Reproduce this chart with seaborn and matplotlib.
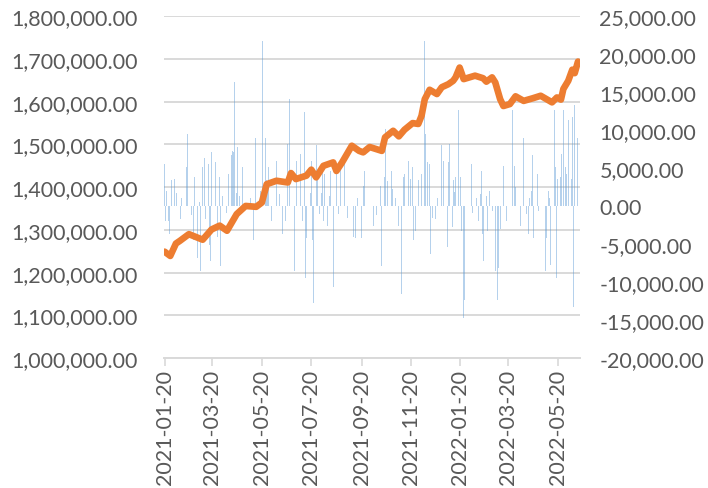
import matplotlib
matplotlib.use("Agg")
import matplotlib.pyplot as plt
import matplotlib.ticker as mticker
import pandas as pd
import seaborn as sns

# Portfolio value (left axis)
line_dates = [
    "2021-01-20", "2021-01-27", "2021-02-03", "2021-02-08", "2021-02-19", "2021-03-08",
    "2021-03-19", "2021-03-29", "2021-04-07", "2021-04-19", "2021-04-30", "2021-05-13",
    "2021-05-20", "2021-05-26", "2021-06-07", "2021-06-21", "2021-06-25", "2021-07-01",
    "2021-07-14", "2021-07-20", "2021-07-26", "2021-08-04", "2021-08-16", "2021-08-20",
    "2021-08-27", "2021-09-08", "2021-09-17", "2021-09-22", "2021-09-30", "2021-10-15",
    "2021-10-19", "2021-10-29", "2021-11-05", "2021-11-12", "2021-11-22", "2021-11-29",
    "2021-12-03", "2021-12-07", "2021-12-13", "2021-12-22", "2021-12-28", "2022-01-05",
    "2022-01-11", "2022-01-14", "2022-01-19", "2022-01-24", "2022-02-07", "2022-02-17",
    "2022-02-21", "2022-02-28", "2022-03-04", "2022-03-10", "2022-03-14", "2022-03-22",
    "2022-03-29", "2022-04-08", "2022-04-19", "2022-04-29", "2022-05-13", "2022-05-19",
    "2022-05-24", "2022-05-27", "2022-06-02", "2022-06-07", "2022-06-10", "2022-06-14",
]
line_values = [
    1249000, 1239000, 1268000, 1274500, 1290000, 1277000,
    1301000, 1310000, 1298000, 1337000, 1356000, 1354000,
    1364000, 1407000, 1415000, 1411000, 1433000, 1419000,
    1427000, 1441000, 1423000, 1450000, 1458000, 1438000,
    1458000, 1497000, 1485000, 1481500, 1494000, 1485000,
    1516600, 1532000, 1519000, 1534500, 1550000, 1548000,
    1567000, 1606000, 1628000, 1618000, 1634000, 1641000,
    1649000, 1657000, 1680000, 1653000, 1661000, 1655000,
    1647000, 1657000, 1645000, 1606000, 1590000, 1594600,
    1612700, 1602000, 1608000, 1614000, 1598600, 1610000,
    1605000, 1630000, 1649000, 1675000, 1667000, 1694000,
]

# Daily profit / loss (right axis)
bar_dates = [
    "2021-01-20", "2021-01-21", "2021-01-22", "2021-01-25", "2021-01-26", "2021-01-29",
    "2021-02-01", "2021-02-03", "2021-02-04", "2021-02-08", "2021-02-09", "2021-02-10",
    "2021-02-16", "2021-02-17", "2021-02-22", "2021-02-24", "2021-02-25", "2021-02-26",
    "2021-03-01", "2021-03-02", "2021-03-04", "2021-03-05", "2021-03-08", "2021-03-10",
    "2021-03-11", "2021-03-15", "2021-03-16", "2021-03-17", "2021-03-18", "2021-03-19",
    "2021-03-22", "2021-03-24", "2021-03-26", "2021-03-29", "2021-03-30",
    "2021-04-01", "2021-04-06", "2021-04-09", "2021-04-12", "2021-04-13", "2021-04-14",
    "2021-04-15", "2021-04-16", "2021-04-19", "2021-04-20", "2021-04-22", "2021-04-23",
    "2021-04-26", "2021-04-28",
    "2021-05-06", "2021-05-10", "2021-05-12", "2021-05-14", "2021-05-18", "2021-05-21",
    "2021-05-24", "2021-05-25", "2021-05-26", "2021-05-27", "2021-05-28",
    "2021-06-01", "2021-06-04", "2021-06-07", "2021-06-09", "2021-06-11", "2021-06-14",
    "2021-06-15", "2021-06-18", "2021-06-21", "2021-06-23", "2021-06-25", "2021-06-29",
    "2021-07-02", "2021-07-07", "2021-07-09", "2021-07-12", "2021-07-13", "2021-07-14",
    "2021-07-16", "2021-07-19", "2021-07-20", "2021-07-21", "2021-07-23", "2021-07-26",
    "2021-07-28", "2021-07-30",
    "2021-08-02", "2021-08-03", "2021-08-04", "2021-08-05", "2021-08-06", "2021-08-09",
    "2021-08-11", "2021-08-13", "2021-08-16", "2021-08-17", "2021-08-20", "2021-08-23",
    "2021-08-25", "2021-08-27", "2021-08-30",
    "2021-09-02", "2021-09-03", "2021-09-07", "2021-09-10", "2021-09-13", "2021-09-15",
    "2021-09-20", "2021-09-22", "2021-09-24", "2021-09-28",
    "2021-10-05", "2021-10-08", "2021-10-13", "2021-10-15", "2021-10-18", "2021-10-19",
    "2021-10-20", "2021-10-22", "2021-10-25", "2021-10-27", "2021-10-28",
    "2021-11-01", "2021-11-04", "2021-11-05", "2021-11-08", "2021-11-09", "2021-11-11",
    "2021-11-12", "2021-11-15", "2021-11-17", "2021-11-19", "2021-11-22", "2021-11-23",
    "2021-11-26", "2021-11-29",
    "2021-12-01", "2021-12-03", "2021-12-06", "2021-12-07", "2021-12-08", "2021-12-10",
    "2021-12-13", "2021-12-14", "2021-12-17", "2021-12-20", "2021-12-23", "2021-12-27",
    "2021-12-28", "2021-12-30",
    "2022-01-04", "2022-01-05", "2022-01-07", "2022-01-10", "2022-01-11", "2022-01-13",
    "2022-01-14", "2022-01-18", "2022-01-20", "2022-01-21", "2022-01-24", "2022-01-25",
    "2022-02-03", "2022-02-04", "2022-02-07", "2022-02-09", "2022-02-11", "2022-02-14",
    "2022-02-15", "2022-02-16", "2022-02-17", "2022-02-21", "2022-02-22", "2022-02-23",
    "2022-02-25",
    "2022-03-01", "2022-03-04", "2022-03-07", "2022-03-08", "2022-03-10", "2022-03-11",
    "2022-03-14", "2022-03-16", "2022-03-18", "2022-03-25", "2022-03-28", "2022-03-29",
    "2022-04-01", "2022-04-04", "2022-04-08", "2022-04-11", "2022-04-12", "2022-04-14",
    "2022-04-15", "2022-04-18", "2022-04-19", "2022-04-20", "2022-04-22", "2022-04-25",
    "2022-04-26",
    "2022-05-05", "2022-05-06", "2022-05-09", "2022-05-10", "2022-05-11", "2022-05-13",
    "2022-05-16", "2022-05-17", "2022-05-19", "2022-05-20", "2022-05-23", "2022-05-25",
    "2022-05-27", "2022-05-30", "2022-05-31",
    "2022-06-02", "2022-06-06", "2022-06-07", "2022-06-08", "2022-06-09", "2022-06-10",
    "2022-06-13",
]
bar_values = [
    5500, -1900, 2000, -1900, -3700, 3400,
    3600, 8200, 1700, 8000, -1700, 1100,
    5100, 9500, -1100, -900, -4500, 3800,
    9000, -6800, 600, -8600, 5100, 6400,
    -1700, 5500, -5100, 3400, -7200, 7100,
    6400, 5800, -4100, 3800, -7900,
    1400, -900, 4200, 8500, 6800, 7300,
    7100, 16400, 1700, 7800, 1400, 3400,
    5100, -700,
    1100, -4400, 9000, 1100, 2000, 21800,
    14800, 9000, 3400, 2000, 5100,
    -1900, -2600, 6000, 6900, 1600, -3700,
    1600, -1900, 8200, 14100, -3700, -8600,
    6000, 6900, -1900, 12400, -9500, -4200,
    3400, 1700, 6000, -4500, -12800, 8000,
    4200, -1000,
    1700, 4600, -1900, 4200, -1500, -2600,
    1400, 4600, -10700, 3800, 4200, -1000,
    5100, 3800, 6000,
    6000, -1500, 3600, -4000, -4200, 1100,
    -4200, 2700, 4600, 1100,
    -2600, -1200, 2700, -7900, 3800, 13300,
    10200, 3300, 7100, 4600, 2300,
    1100, -1000, -2600, -11600, 8900, 3800,
    4200, -4200, 6000, 3600, 5100, -4400,
    -3300, 3400,
    9000, 4200, 9500, 21700, 9500, 5800,
    5500, -6300, -1500, -1700, 1100, 4600,
    8000, 6000,
    -5400, 5800, 8200, -2800, 3400, 1800,
    3800, 12700, 3800, -3300, -14700, -12400,
    5500, -900, 4600, 1100, -1900, 1600,
    4600, -3700, -7200, 1400, -3300, 6400,
    2000,
    -700, -8600, -12400, -8100, -3000, -16000,
    5300, 8500, -1900, 12700, 5300, 2500,
    -5400, -2600, 9000, -5700, -1000, -3700,
    1100, 2000, 6700, -4200, -1000, 4200,
    -700,
    -8600, -4200, 2000, 1100, -7700, 6000,
    12700, 5100, -9500, 3600, 3800, 6900,
    12700, 5100, 4200,
    11300, 3600, 11800, -13300, 4600, 13300,
    9000,
]

x_tick_labels = [
    "2021-01-20", "2021-03-20", "2021-05-20", "2021-07-20", "2021-09-20",
    "2021-11-20", "2022-01-20", "2022-03-20", "2022-05-20",
]
left_ticks = [1000000, 1100000, 1200000, 1300000, 1400000,
              1500000, 1600000, 1700000, 1800000]
right_ticks = [-20000, -15000, -10000, -5000, 0, 5000, 10000, 15000, 20000, 25000]

line_df = pd.DataFrame({"date": pd.to_datetime(line_dates), "value": line_values})
bar_df = pd.DataFrame({"date": pd.to_datetime(bar_dates), "pnl": bar_values})

sns.set_theme(style="white")
plt.rcParams["font.family"] = ["Lato", "DejaVu Sans"]

TEXT = "#595959"
GRID = "#D9D9D9"
FS = 15.5

fig = plt.figure(figsize=(7.08, 4.89), dpi=100)
ax_left = fig.add_axes([0.2316, 0.2658, 0.5876, 0.6988])
ax_bar = ax_left.twinx()
ax_line = ax_left.twinx()

# daily bars on the secondary scale
ax_bar.bar(bar_df["date"], bar_df["pnl"], width=1.0, color="#5B9BD5",
           alpha=0.45, linewidth=0)
ax_bar.set_ylim(right_ticks[0], right_ticks[-1])
ax_bar.set_yticks(right_ticks)
ax_bar.yaxis.set_major_formatter(mticker.FuncFormatter(lambda v, p: f"{v:,.2f}"))
ax_bar.tick_params(axis="y", length=0, pad=14, labelsize=FS, labelcolor=TEXT,
                   right=False)
ax_bar.set_ylabel("")

# value line on the primary scale
sns.lineplot(data=line_df, x="date", y="value", ax=ax_line, color="#ED7D31",
             linewidth=4.8, estimator=None, sort=False,
             solid_joinstyle="round", solid_capstyle="round")
ax_line.set_ylim(left_ticks[0], left_ticks[-1])
ax_line.set_yticks([])
ax_line.set_ylabel("")

ax_left.set_ylim(left_ticks[0], left_ticks[-1])
ax_left.set_yticks(left_ticks)
ax_left.yaxis.set_major_formatter(mticker.FuncFormatter(lambda v, p: f"{v:,.2f}"))
ax_left.tick_params(axis="y", length=0, pad=19, labelsize=FS, labelcolor=TEXT,
                    left=False)
ax_left.yaxis.grid(True, color=GRID, linewidth=1.4)
ax_left.xaxis.grid(False)

tick_pos = pd.to_datetime(x_tick_labels)
ax_left.set_xlim(pd.Timestamp("2021-01-19 06:00"), pd.Timestamp("2022-06-16 12:00"))
ax_left.set_xticks(tick_pos)
ax_left.set_xticklabels(x_tick_labels, rotation=90)
ax_left.tick_params(axis="x", bottom=True, length=6, width=1.2, color=GRID,
                    pad=2, labelsize=FS, labelcolor=TEXT)
ax_left.set_xlabel("")
ax_line.set_xlabel("")

for ax in (ax_left, ax_bar, ax_line):
    for side in ("top", "left", "right", "bottom"):
        ax.spines[side].set_visible(False)
ax_left.spines["bottom"].set_visible(True)
ax_left.spines["bottom"].set_color(GRID)
ax_left.spines["bottom"].set_linewidth(1.4)

fig.savefig("out.png", dpi=100, facecolor="white")
